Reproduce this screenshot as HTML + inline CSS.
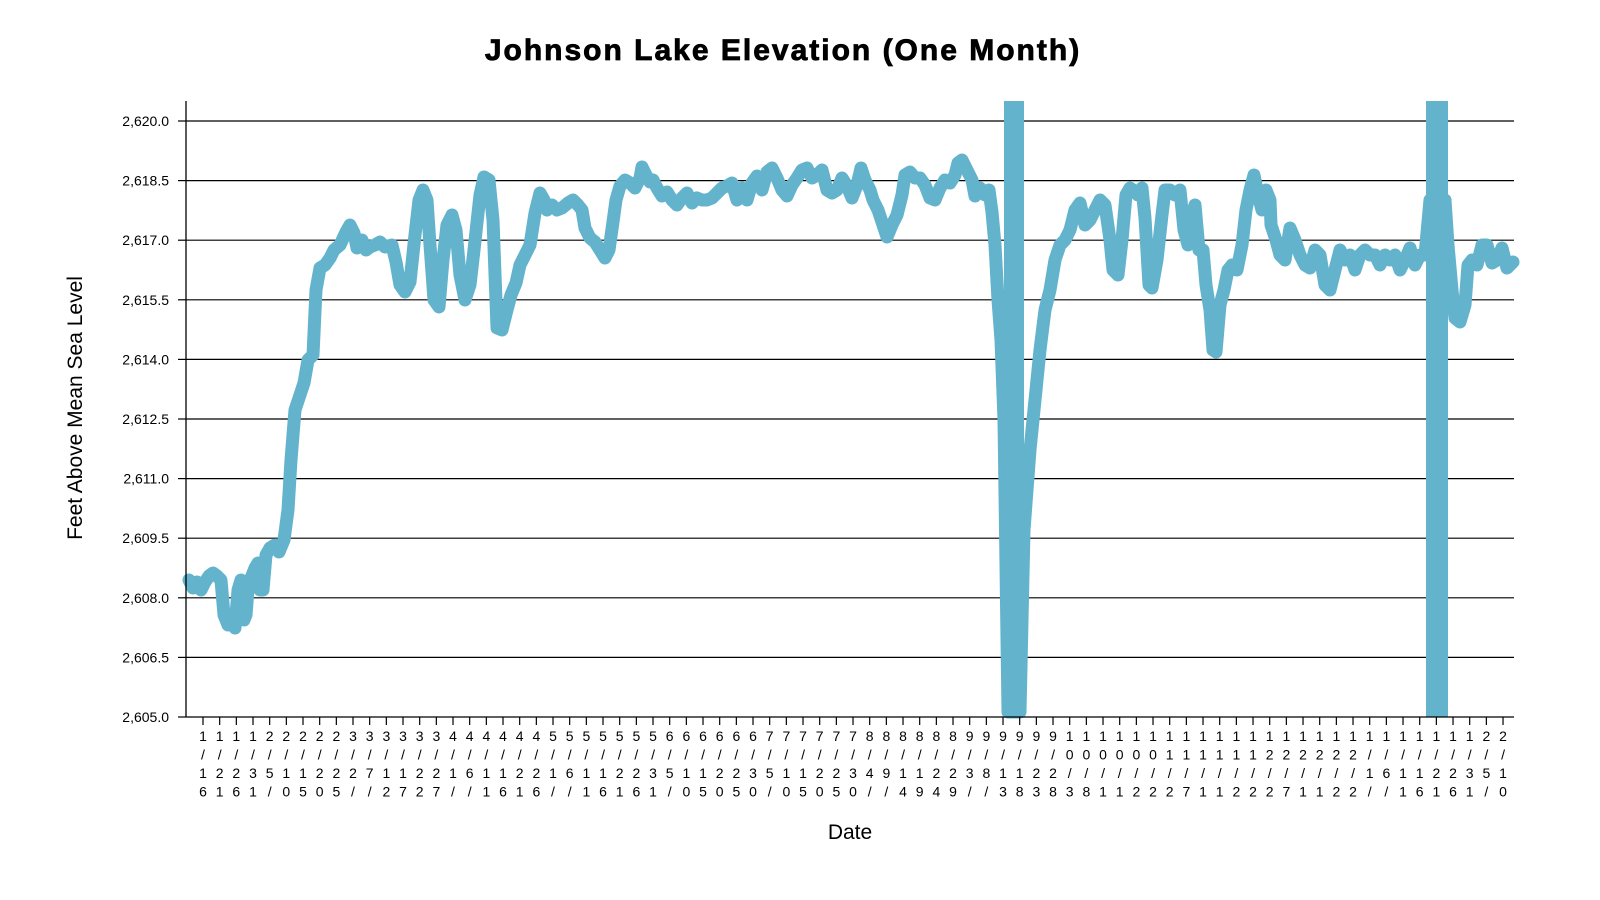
<!DOCTYPE html>
<html><head><meta charset="utf-8"><style>
html,body{margin:0;padding:0;background:#fff;width:1600px;height:900px;overflow:hidden}
svg text{font-family:"Liberation Sans",Arial,sans-serif}
</style></head><body>
<svg id="c" width="1600" height="900" xmlns="http://www.w3.org/2000/svg">
<text x="783" y="60" text-anchor="middle" font-size="30" font-weight="bold" letter-spacing="2" stroke="#000" stroke-width="0.8">Johnson Lake Elevation (One Month)</text>
<text x="850" y="839" text-anchor="middle" font-size="21">Date</text>
<text transform="translate(82,408) rotate(-90)" text-anchor="middle" font-size="21">Feet Above Mean Sea Level</text>
<g id="grid"></g>
<rect x="1004" y="101" width="20" height="616" fill="#63b3cd"/>
<rect x="1426" y="101" width="22" height="616" fill="#63b3cd"/>
<polyline id="ln" fill="none" stroke="#63b3cd" stroke-width="13" stroke-linejoin="round" stroke-linecap="round" points=""/>
<line x1="186" y1="101" x2="186" y2="717" stroke="#000" stroke-width="1.3"/>
<line x1="186" y1="717" x2="1514" y2="717" stroke="#000" stroke-width="1.3"/>
<g id="xt"></g>
</svg>
<script>
var NS="http://www.w3.org/2000/svg";
function el(t,a,txt){var e=document.createElementNS(NS,t);for(var k in a)e.setAttribute(k,a[k]);if(txt!=null)e.textContent=txt;return e;}
var g=document.getElementById('grid');
var labs=["2,620.0","2,618.5","2,617.0","2,615.5","2,614.0","2,612.5","2,611.0","2,609.5","2,608.0","2,606.5","2,605.0"];
for(var i=0;i<11;i++){var y=121+i*59.6;
 if(i<10)g.appendChild(el('line',{x1:186,x2:1514,y1:y,y2:y,stroke:'#000','stroke-width':1.2}));
 g.appendChild(el('line',{x1:178,x2:186,y1:y,y2:y,stroke:'#000','stroke-width':1.2}));
 g.appendChild(el('text',{x:169,y:y+5,'text-anchor':'end','font-size':14},labs[i]));}
var pts=[[189,580],[193,588],[197,582],[201,590],[205,582],[209,576],[213,573],[217,576],[221,580],[224,615],[228,625],[232,622],[235,628],[238,590],[241,580],[244,620],[246,615],[248,590],[251,578],[255,568],[258,563],[260,590],[263,590],[266,555],[270,548],[275,545],[279,552],[284,540],[288,510],[291,460],[295,410],[300,395],[304,383],[308,360],[313,355],[316,290],[320,268],[325,265],[330,258],[334,250],[340,245],[346,232],[350,225],[354,233],[357,248],[362,240],[366,250],[370,247],[375,245],[380,242],[385,247],[392,245],[396,262],[400,285],[405,292],[410,282],[415,235],[419,200],[423,190],[427,200],[430,245],[434,300],[439,307],[443,260],[447,225],[452,215],[456,230],[460,275],[465,300],[470,285],[474,250],[480,195],[484,177],[489,180],[493,220],[497,328],[502,330],[507,310],[511,295],[516,283],[520,265],[525,255],[530,245],[535,213],[540,193],[544,200],[547,210],[552,205],[557,210],[562,208],[568,203],[573,200],[578,205],[582,210],[585,228],[590,238],[595,242],[600,250],[605,258],[609,250],[613,222],[616,200],[620,186],[625,180],[630,183],[635,188],[640,178],[642,167],[646,175],[650,182],[653,180],[657,188],[662,196],[667,192],[672,200],[677,205],[682,198],[687,193],[692,203],[697,198],[702,200],[707,200],[712,198],[717,193],[722,188],[727,186],[732,183],[737,200],[742,188],[747,200],[752,183],[757,176],[762,190],[767,172],[772,168],[777,178],[782,190],[787,196],[792,185],[797,178],[802,170],[807,168],[812,178],[817,175],[822,170],[827,190],[832,193],[837,190],[842,178],[847,186],[852,198],[857,185],[861,168],[865,180],[870,190],[873,200],[878,210],[883,225],[887,237],[892,225],[897,215],[902,195],[905,175],[910,172],[915,178],[920,178],[925,185],[930,198],[935,200],[940,188],[945,180],[950,183],[955,175],[958,163],[962,160],[967,170],[972,180],[975,196],[980,188],[985,195],[989,190],[992,212],[995,245],[998,300],[1001,340],[1004,420],[1008,712],[1020,712],[1024,530],[1030,450],[1035,400],[1040,350],[1045,310],[1050,290],[1055,260],[1060,245],[1065,240],[1070,230],[1075,210],[1080,203],[1085,225],[1090,220],[1095,210],[1100,200],[1105,205],[1110,240],[1113,270],[1118,275],[1122,240],[1126,195],[1130,188],[1133,190],[1138,195],[1142,188],[1145,218],[1149,285],[1152,288],[1157,260],[1162,215],[1165,190],[1170,190],[1175,195],[1180,190],[1184,230],[1188,245],[1192,215],[1195,205],[1199,250],[1203,250],[1206,285],[1210,310],[1213,350],[1216,352],[1220,305],[1224,290],[1228,270],[1232,265],[1237,270],[1242,245],[1246,210],[1250,190],[1254,175],[1258,195],[1262,210],[1266,190],[1270,200],[1271,225],[1276,240],[1280,255],[1285,260],[1290,228],[1295,240],[1300,255],[1305,265],[1310,268],[1315,250],[1320,255],[1325,285],[1330,290],[1335,270],[1340,250],[1345,260],[1350,255],[1355,270],[1360,255],[1365,250],[1370,255],[1375,255],[1380,265],[1385,255],[1390,260],[1395,255],[1400,270],[1405,260],[1410,248],[1415,265],[1420,255],[1425,255],[1430,200],[1445,200],[1448,245],[1452,290],[1455,318],[1460,322],[1465,305],[1468,265],[1472,260],[1477,265],[1482,245],[1487,245],[1492,263],[1497,260],[1502,248],[1507,268],[1513,262]];
document.getElementById('ln').setAttribute('points',pts.map(function(p){return p.join(',')}).join(' '));
var xt=document.getElementById('xt');
var d=new Date(2023,0,16);
for(var i=0;i<79;i++){var x=203+i*16.667;
 var s=(d.getMonth()+1)+"/"+d.getDate()+"/"+d.getFullYear();
 xt.appendChild(el('line',{x1:x,x2:x,y1:717,y2:725,stroke:'#000','stroke-width':1.2}));
 for(var r=0;r<4;r++){xt.appendChild(el('text',{x:x,y:741+r*18.5,'text-anchor':'middle','font-size':14},s.charAt(r)));}
 d.setDate(d.getDate()+5);}
</script>
</body></html>
